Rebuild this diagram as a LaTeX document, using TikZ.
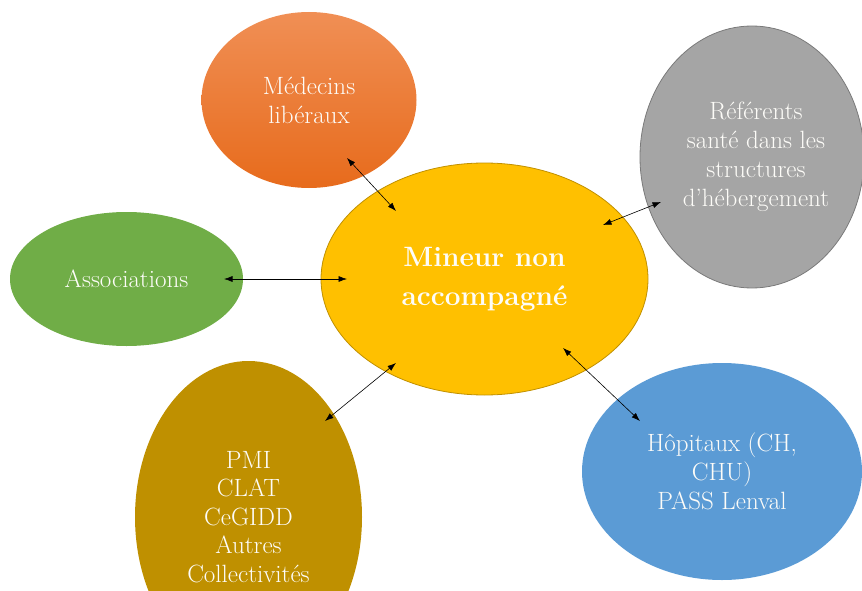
\documentclass[tikz,border=0pt]{standalone}
\usepackage{fontspec}
\usetikzlibrary{shapes.geometric,arrows.meta}
\definecolor{cyellow}{HTML}{FFC000}
\definecolor{cyellowline}{HTML}{C09000}
\definecolor{cgray}{HTML}{A5A5A5}
\definecolor{cgrayline}{HTML}{7A7A7A}
\definecolor{cgreen}{HTML}{70AD47}
\definecolor{cgold}{HTML}{BF9000}
\definecolor{cblue}{HTML}{5B9BD5}
\definecolor{corangetop}{HTML}{F08F55}
\definecolor{corangebot}{HTML}{E76B1C}
\definecolor{ctext}{HTML}{FDFCF8}
\begin{document}
\begin{tikzpicture}[x=1pt,y=-1pt,
  bubble/.style={ellipse, inner sep=0pt, text=ctext, align=center,
    font=\fontsize{25}{29}\selectfont},
  link/.style={{Latex[length=8.5pt,width=6pt]}-{Latex[length=8.5pt,width=6pt]},
    line width=0.6pt, black}]
\useasboundingbox (0,0) rectangle (862,591);
\clip (0,0) rectangle (862,591);
% bubbles
\node[bubble, minimum width=215pt, minimum height=176pt,
  top color=corangetop, bottom color=corangebot] (med) at (309,100)
  {Médecins\\libéraux};
\node[bubble, minimum width=224pt, minimum height=262pt, fill=cgray,
  draw=cgrayline, line width=0.8pt] (ref) at (752,157)
  {\hspace*{8pt}Référents\\\hspace*{8pt}santé dans les\\\hspace*{8pt}structures\\\hspace*{8pt}d’hébergement};
\node[bubble, minimum width=233pt, minimum height=134pt, fill=cgreen]
  (asso) at (126.5,279) {Associations};
\node[bubble, minimum width=227pt, minimum height=312pt, fill=cgold,
  font=\fontsize{25}{28.5}\selectfont]
  (pmi) at (248.5,517) {PMI\\CLAT\\CeGIDD\\Autres\\Collectivités};
\node[bubble, minimum width=280pt, minimum height=217pt, fill=cblue]
  (hop) at (722,471.5) {Hôpitaux (CH,\\CHU)\\PASS Lenval};
\node[bubble, minimum width=327pt, minimum height=232pt, fill=cyellow,
  draw=cyellowline, line width=0.8pt,
  font=\fontsize{28}{39}\selectfont\bfseries] (mna) at (484.5,279)
  {Mineur non\\accompagné};
% connector ends
\coordinate (m1) at (347,158);  \coordinate (y1) at (396,211);
\coordinate (r1) at (661,202);  \coordinate (y2) at (603,225);
\coordinate (s1) at (224,279);  \coordinate (y3) at (347,279);
\coordinate (p1) at (325,421);  \coordinate (y4) at (396,363);
\coordinate (h1) at (640,421);  \coordinate (y5) at (563,348);
% connectors
\draw[link] (m1) -- (y1);
\draw[link] (r1) -- (y2);
\draw[link] (s1) -- (y3);
\draw[link] (p1) -- (y4);
\draw[link] (h1) -- (y5);
\end{tikzpicture}
\end{document}
